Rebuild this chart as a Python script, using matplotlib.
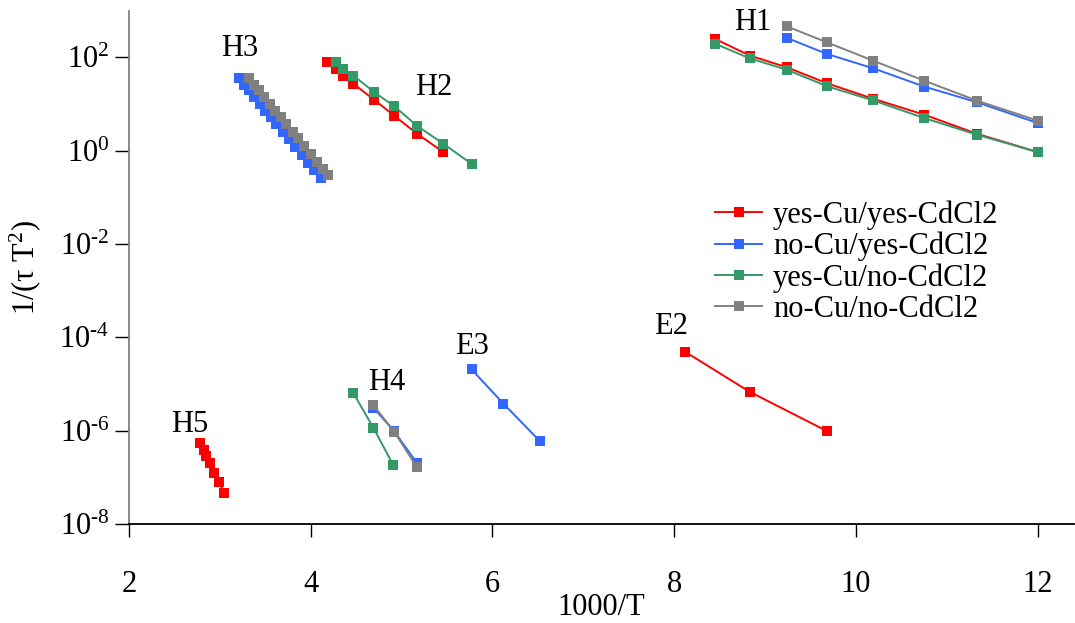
import math
import matplotlib
matplotlib.use("Agg")
import matplotlib.pyplot as plt
from matplotlib.ticker import FixedLocator, FuncFormatter, NullLocator

plt.rcParams['font.family'] = ['Liberation Serif', 'DejaVu Serif']
plt.rcParams['mathtext.fontset'] = 'custom'
plt.rcParams['mathtext.rm'] = 'Liberation Serif'
plt.rcParams['mathtext.it'] = 'Liberation Serif:italic'

# series labels and colours
series_names = ['yes-Cu/yes-CdCl2', 'no-Cu/yes-CdCl2', 'yes-Cu/no-CdCl2', 'no-Cu/no-CdCl2']
colors = ['#ff0000', '#3366ff', '#339966', '#808080']

# yes-Cu/yes-CdCl2 (red): H1, H2, H5, E2 segments
red_h1_x = [8.45, 8.83, 9.24, 9.68, 10.19, 10.75, 11.33, 12.0]
red_h1_y = [248, 109, 61, 27.8, 12.9, 5.9, 2.3, 0.93]
red_h2_x = [4.18, 4.28, 4.36, 4.47, 4.70, 4.92, 5.17, 5.46]
red_h2_y = [78, 56.5, 39.2, 26.9, 12.2, 5.57, 2.30, 0.93]
red_h5_x = [2.78, 2.82, 2.85, 2.89, 2.94, 2.99, 3.05]
red_h5_y = [5.5e-7, 3.8e-7, 2.9e-7, 2.0e-7, 1.26e-7, 7.9e-8, 4.6e-8]
red_e2_x = [8.12, 8.83, 9.68]
red_e2_y = [4.9e-5, 6.8e-6, 9.8e-7]

# no-Cu/yes-CdCl2 (blue): H1, H3, H4, E3
blue_h1_x = [9.24, 9.68, 10.19, 10.75, 11.33, 12.0]
blue_h1_y = [260, 118, 58, 23.6, 10.9, 3.9]
blue_h3_x = [3.21, 3.27, 3.32, 3.38, 3.44, 3.50, 3.56, 3.62, 3.69, 3.76, 3.83, 3.90, 3.97, 4.04, 4.11]
blue_h3_y = [35.5, 25.5, 19.4, 14.0, 10.1, 7.2, 5.2, 3.75, 2.56, 1.74, 1.19, 0.81, 0.55, 0.376, 0.256]
blue_h4_x = [4.69, 4.92, 5.17]
blue_h4_y = [3.1e-6, 9.6e-7, 2.0e-7]
blue_e3_x = [5.77, 6.12, 6.52]
blue_e3_y = [2.05e-5, 3.8e-6, 6.0e-7]

# yes-Cu/no-CdCl2 (green): H1, H2, H4
green_h1_x = [8.45, 8.83, 9.24, 9.68, 10.19, 10.75, 11.33, 12.0]
green_h1_y = [195, 95, 54, 24, 11.9, 5.0, 2.2, 0.93]
green_h2_x = [4.28, 4.36, 4.47, 4.70, 4.92, 5.17, 5.46, 5.77]
green_h2_y = [81, 56.5, 40.6, 17.8, 8.9, 3.4, 1.40, 0.52]
green_h4_x = [4.47, 4.69, 4.91]
green_h4_y = [6.3e-6, 1.15e-6, 1.8e-7]

# no-Cu/no-CdCl2 (gray): H1, H3, H4
gray_h1_x = [9.24, 9.68, 10.19, 10.75, 11.33, 12.0]
gray_h1_y = [460, 209, 84.5, 31.6, 11.8, 4.4]
gray_h3_x = [3.32, 3.38, 3.43, 3.49, 3.55, 3.61, 3.67, 3.73, 3.80, 3.86, 3.93, 4.00, 4.07, 4.13, 4.19]
gray_h3_y = [35.5, 25.5, 19.4, 13.9, 10.0, 7.2, 5.2, 3.7, 2.53, 1.82, 1.24, 0.84, 0.57, 0.41, 0.30]
gray_h4_x = [4.69, 4.92, 5.17]
gray_h4_y = [3.5e-6, 9.4e-7, 1.63e-7]

# peak labels
peak_names = ['H1', 'H2', 'H3', 'H4', 'H5', 'E3', 'E2']
peak_x = [8.86, 5.35, 3.22, 4.84, 2.67, 5.77, 7.97]
peak_y = [553, 22.5, 153, 1.1e-5, 1.38e-6, 6.2e-5, 1.74e-4]

segments = [
    [(red_h1_x, red_h1_y), (red_h2_x, red_h2_y), (red_h5_x, red_h5_y), (red_e2_x, red_e2_y)],
    [(blue_h1_x, blue_h1_y), (blue_h3_x, blue_h3_y), (blue_h4_x, blue_h4_y), (blue_e3_x, blue_e3_y)],
    [(green_h1_x, green_h1_y), (green_h2_x, green_h2_y), (green_h4_x, green_h4_y)],
    [(gray_h1_x, gray_h1_y), (gray_h3_x, gray_h3_y), (gray_h4_x, gray_h4_y)],
]

FS = 22

fig = plt.figure(figsize=(10.75, 6.23), dpi=100)
ax = fig.add_axes([0.12, 0.159, 0.879, 0.824])

for name, color, segs in zip(series_names, colors, segments):
    for i, (xs, ys) in enumerate(segs):
        ax.plot(xs, ys, color=color, lw=1.4, marker='s', markersize=6.5,
                markeredgewidth=0, label=name if i == 0 else None)

for name, x, y in zip(peak_names, peak_x, peak_y):
    ax.text(x, y, name, fontsize=FS, ha='center', va='center')


def pow_label(v, pos):
    e = round(math.log10(v))
    s = str(e).replace('-', '\u2010')
    return r'$\mathregular{10^{%s}}$' % s


ax.set_yscale('log')
ax.set_xlim(2, 12.4)
ax.set_ylim(1e-8, 1e3)
ax.xaxis.set_major_locator(FixedLocator([2, 4, 6, 8, 10, 12]))
ax.yaxis.set_major_locator(FixedLocator([1e-8, 1e-6, 1e-4, 1e-2, 1e0, 1e2]))
ax.yaxis.set_minor_locator(NullLocator())
ax.yaxis.set_major_formatter(FuncFormatter(pow_label))

for s in ['top', 'right']:
    ax.spines[s].set_visible(False)
ax.spines['left'].set_color('#808080')
ax.spines['left'].set_linewidth(1.3)
ax.spines['bottom'].set_color('black')
ax.spines['bottom'].set_linewidth(1.3)

ax.tick_params(axis='x', direction='out', length=9, width=1, pad=24, labelsize=FS)
ax.tick_params(axis='y', direction='out', length=10, width=1, pad=4, labelsize=FS)

ax.set_xlabel('1000/T', fontsize=FS, labelpad=-4)
ax.set_ylabel('1/(τ T$\\mathregular{^2}$)', fontsize=FS, labelpad=12)

ax.legend(loc='upper left', bbox_to_anchor=(0.62, 0.63), frameon=False, fontsize=FS,
          handlelength=1.55, handletextpad=0.35, labelspacing=0.06, borderaxespad=0,
          borderpad=0)

fig.savefig('out.png', dpi=100)
